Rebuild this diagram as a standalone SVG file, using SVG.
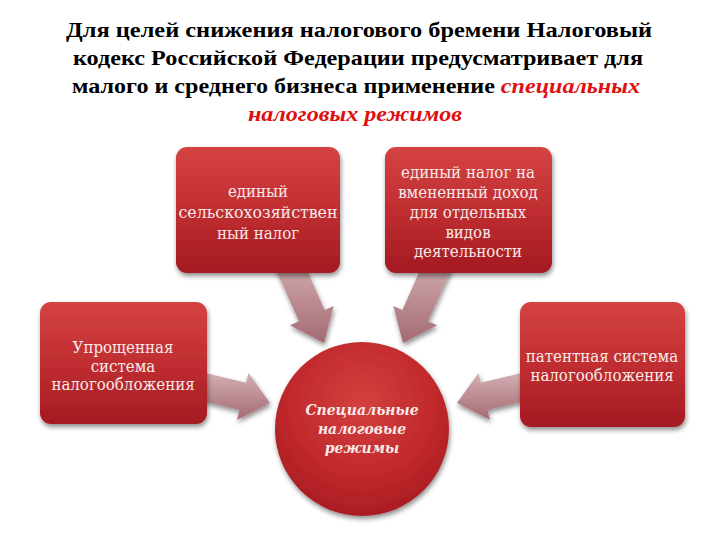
<svg xmlns="http://www.w3.org/2000/svg" width="720" height="540" viewBox="0 0 720 540">
  <defs>
    <linearGradient id="boxGrad" x1="0" y1="0" x2="0" y2="1">
      <stop offset="0" stop-color="#d44342"/>
      <stop offset="0.5" stop-color="#c02e31"/>
      <stop offset="1" stop-color="#a31a21"/>
    </linearGradient>
    <radialGradient id="circGrad" cx="0.5" cy="0.35" r="0.7">
      <stop offset="0" stop-color="#d4403f"/>
      <stop offset="0.6" stop-color="#c0292c"/>
      <stop offset="1" stop-color="#a41a20"/>
    </radialGradient>
    <linearGradient id="arrGrad" x1="0" y1="0" x2="0" y2="1">
      <stop offset="0" stop-color="#d4b0b4"/>
      <stop offset="1" stop-color="#a46a72"/>
    </linearGradient>
    <filter id="shadow" x="-20%" y="-20%" width="140%" height="140%">
      <feGaussianBlur in="SourceAlpha" stdDeviation="2.5"/>
      <feOffset dx="1" dy="3" result="b"/>
      <feComponentTransfer><feFuncA type="linear" slope="0.45"/></feComponentTransfer>
      <feMerge><feMergeNode/><feMergeNode in="SourceGraphic"/></feMerge>
    </filter>
  </defs>
  <style>
    .title { font-family: "Liberation Serif", "DejaVu Serif", serif; font-weight: bold; font-size: 22px; fill: #000; text-anchor: middle; }
    .red { fill: #e01010; font-style: italic; }
    .box { fill: url(#boxGrad); filter: url(#shadow); }
    .arrow { fill: url(#arrGrad); filter: url(#shadow); }
    .lbl { font-family: "DejaVu Serif", "Liberation Serif", serif; font-stretch: condensed; font-size: 16.7px; fill: #f8eae8; text-anchor: middle; }
    .clbl { font-family: "DejaVu Serif", "Liberation Serif", serif; font-stretch: condensed; font-size: 15.5px; font-weight: bold; font-style: italic; fill: #f8eae8; text-anchor: middle; }
  </style>
  <rect width="720" height="540" fill="#ffffff"/>

  <g id="title">
    <text class="title" x="359" y="37" textLength="586" lengthAdjust="spacingAndGlyphs">Для целей снижения налогового бремени Налоговый</text>
    <text class="title" x="358" y="65" textLength="570" lengthAdjust="spacingAndGlyphs">кодекс Российской Федерации предусматривает для</text>
    <text class="title" x="356" y="93" textLength="568" lengthAdjust="spacingAndGlyphs">малого и среднего бизнеса применение <tspan class="red">специальных</tspan></text>
    <text class="title red" x="355" y="121" textLength="214" lengthAdjust="spacingAndGlyphs">налоговых режимов</text>
  </g>

  <g id="connectors">
    <polygon class="arrow" points="275.2,267.7 300.8,256.3 324.6,309.9 333.7,305.9 324,343 289.9,325.3 299,321.3"/>
    <polygon class="arrow" points="451.8,267.7 426.2,256.3 402.4,309.9 393.3,305.9 403,343 437.1,325.3 428,321.3"/>
    <polygon class="arrow" points="196.7,399.6 203.3,372.4 246.1,382.8 248.5,373.1 270,403 237.1,419.7 239.5,410"/>
    <polygon class="arrow" points="530.3,399.6 523.7,372.4 480.9,382.8 478.5,373.1 457,403 489.9,419.7 487.5,410"/>
  </g>

  <g id="node-eshn">
    <rect class="box" x="176" y="147" width="164" height="126" rx="11"/>
    <text class="lbl" x="258" y="197">единый</text>
    <text class="lbl" x="258" y="218" textLength="159" lengthAdjust="spacingAndGlyphs">сельскохозяйствен</text>
    <text class="lbl" x="258" y="239">ный налог</text>
  </g>

  <g id="node-envd">
    <rect class="box" x="385" y="147" width="167" height="126" rx="11"/>
    <text class="lbl" x="468" y="178">единый налог на</text>
    <text class="lbl" x="468" y="198">вмененный доход</text>
    <text class="lbl" x="468" y="218">для отдельных</text>
    <text class="lbl" x="468" y="238">видов</text>
    <text class="lbl" x="468" y="257">деятельности</text>
  </g>

  <g id="node-usn">
    <rect class="box" x="40" y="302" width="167" height="122" rx="11"/>
    <text class="lbl" x="123" y="353">Упрощенная</text>
    <text class="lbl" x="123" y="371.5">система</text>
    <text class="lbl" x="123" y="390">налогообложения</text>
  </g>

  <g id="node-patent">
    <rect class="box" x="520" y="302" width="165" height="125" rx="11"/>
    <text class="lbl" x="602" y="362">патентная система</text>
    <text class="lbl" x="602" y="381">налогообложения</text>
  </g>

  <g id="node-center">
    <circle cx="362" cy="429" r="87" fill="url(#circGrad)" filter="url(#shadow)"/>
    <text class="clbl" x="362" y="415">Специальные</text>
    <text class="clbl" x="362" y="434">налоговые</text>
    <text class="clbl" x="362" y="453">режимы</text>
  </g>
</svg>
